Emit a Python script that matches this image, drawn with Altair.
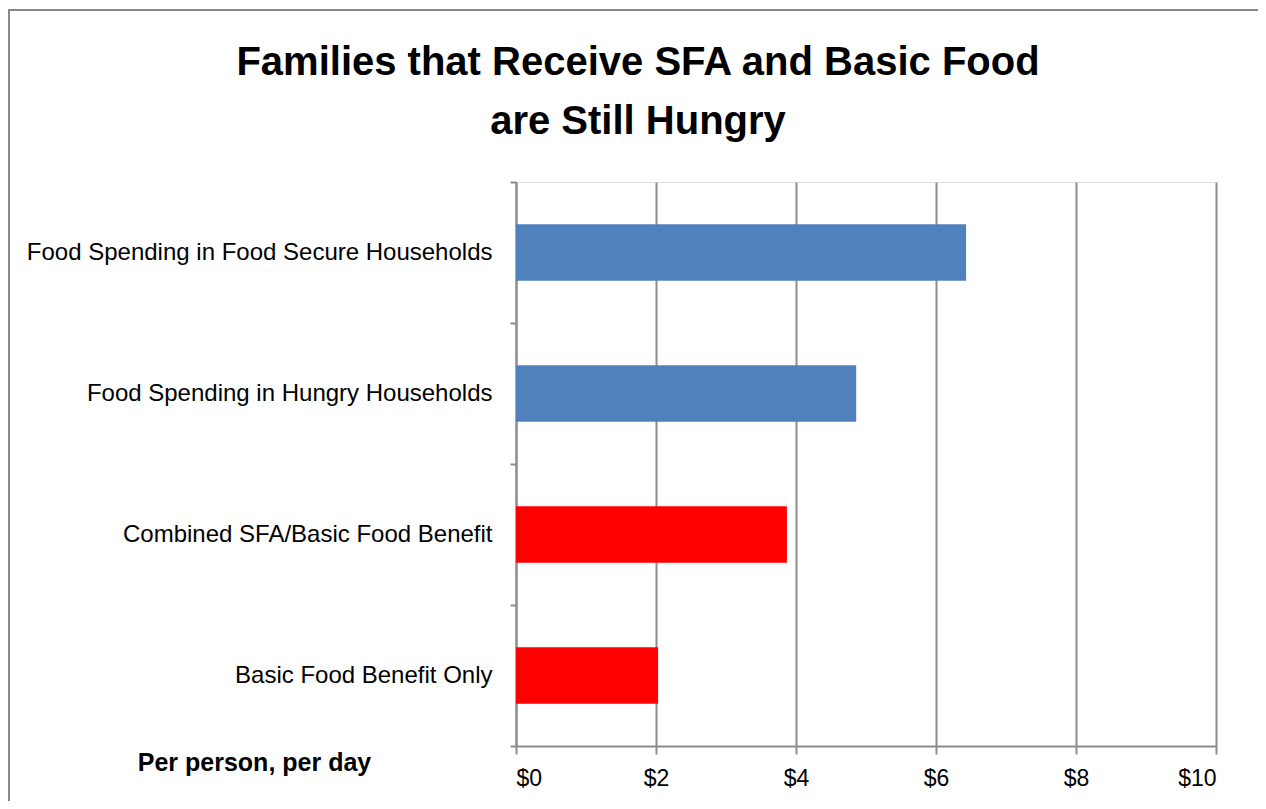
import altair as alt
import pandas as pd

categories = [
    "Food Spending in Food Secure Households",
    "Food Spending in Hungry Households",
    "Combined SFA/Basic Food Benefit",
    "Basic Food Benefit Only",
]
values = [6.43, 4.86, 3.87, 2.03]
bar_colors = ["#4F81BD", "#4F81BD", "#FF0000", "#FF0000"]
x_ticks = [0, 2, 4, 6, 8, 10]

df = pd.DataFrame({"cat": categories, "val": values, "col": bar_colors})

FONT = "Liberation Sans"
GRID = "#8c8c8c"

bars = alt.Chart(df).mark_bar(height=alt.RelativeBandSize(0.4)).encode(
    y=alt.Y(
        "cat:N",
        sort=categories,
        scale=alt.Scale(paddingInner=0, paddingOuter=0),
        axis=alt.Axis(
            title=None,
            bandPosition=1,
            tickExtra=True,
            ticks=True,
            tickSize=6,
            tickColor=GRID,
            tickWidth=2,
            domainColor=GRID,
            domainWidth=2,
            grid=False,
            labelFont=FONT,
            labelFontSize=24,
            labelColor="#000000",
            labelPadding=18,
            labelLimit=700,
        ),
    ),
    x=alt.X(
        "val:Q",
        scale=alt.Scale(domain=[0, 10], nice=False),
        axis=alt.Axis(
            values=x_ticks,
            format="$d",
            title="Per person, per day",
            titleFont=FONT,
            titleFontSize=25,
            titleFontWeight="bold",
            titleColor="#000000",
            titleX=-262,
            titleY=16,
            titleAlign="center",
            titleBaseline="middle",
            titleAngle=0,
            grid=True,
            gridColor=GRID,
            gridWidth=2,
            tickSize=8,
            tickColor=GRID,
            tickWidth=2,
            domainColor=GRID,
            domainWidth=2,
            labelFont=FONT,
            labelFontSize=23,
            labelColor="#000000",
            labelPadding=13,
        ),
    ),
    color=alt.Color("col:N", scale=None, legend=None),
)

frame = alt.Chart(pd.DataFrame({"a": [0]})).mark_rect(
    fill="transparent", stroke="#888888", strokeWidth=2
).encode(
    x=alt.value(-507),
    y=alt.value(-172),
    x2=alt.value(800),
    y2=alt.value(900),
)

chart = alt.layer(frame, bars).properties(
    width=700,
    height=564,
    padding={"left": 508, "top": 174, "right": 42, "bottom": 55},
    autosize=alt.AutoSizeParams(type="none"),
    title=alt.TitleParams(
        text=["Families that Receive SFA and Basic Food", "are Still Hungry"],
        font=FONT,
        fontSize=40,
        fontWeight="bold",
        color="#000000",
        anchor="middle",
        frame="group",
        baseline="alphabetic",
        dx=-228,
        lineHeight=59,
        offset=-165,
    ),
).configure_view(stroke=None).configure(background="white")

chart.save("out.html", embed_options={"renderer": "svg", "actions": False})
